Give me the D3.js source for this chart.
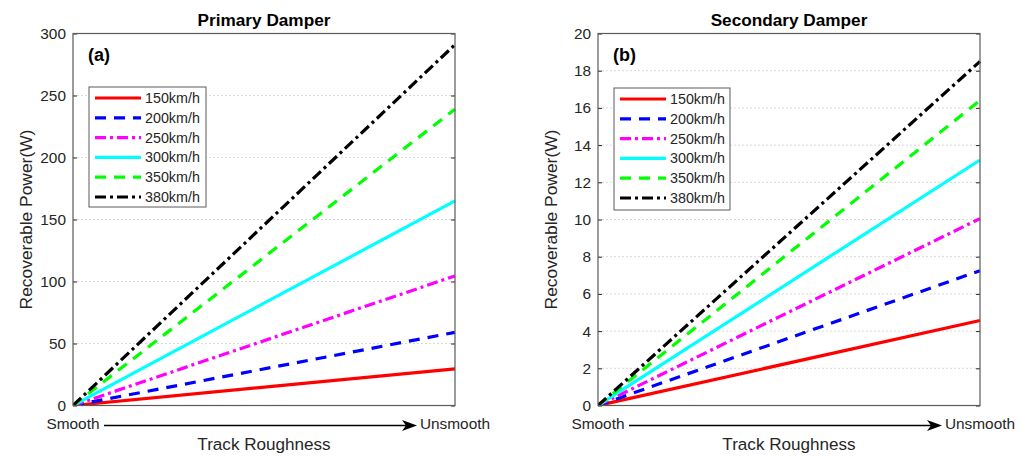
<!DOCTYPE html>
<html>
<head>
<meta charset="utf-8">
<script src="https://cdn.jsdelivr.net/npm/d3@7"></script>
<style>
  body { margin: 0; background: #fff; }
  svg { display: block; }
  svg text { font-family: "Liberation Sans", Arial, sans-serif; }
</style>
</head>
<body>
<div id="chart"></div>
<script>
// data
const speeds = ['150km/h', '200km/h', '250km/h', '300km/h', '350km/h', '380km/h'];
const primaryPower = [29.5, 59, 104.5, 165, 239, 291];     // W at "Unsmooth"
const secondaryPower = [4.57, 7.25, 10.05, 13.2, 16.4, 18.5];
const roughness = [0, 1];   // Smooth -> Unsmooth
const primaryTicks = [0, 50, 100, 150, 200, 250, 300];
const secondaryTicks = [0, 2, 4, 6, 8, 10, 12, 14, 16, 18, 20];

// line styles per speed
const colors = ['#ff0000', '#0000ff', '#ff00ff', '#00ffff', '#00ff00', '#000000'];
const dashes = [null, '11,8', '11,4,3,4', null, '11,8', '11,4,3,4'];

const W = 1029, H = 456;
const svg = d3.select('#chart').append('svg').attr('width', W).attr('height', H);

drawPanel({
  left: 73, right: 455, top: 33.5, bottom: 405.5,
  title: 'Primary Damper', tag: '(a)',
  values: primaryPower, ticks: primaryTicks,
  legend: {x: 89, y: 87, w: 117, h: 120}
});
drawPanel({
  left: 598, right: 980, top: 33.5, bottom: 405.5,
  title: 'Secondary Damper', tag: '(b)',
  values: secondaryPower, ticks: secondaryTicks,
  legend: {x: 614, y: 88, w: 116, h: 122}
});

function drawPanel(p) {
  const x = d3.scaleLinear().domain(d3.extent(roughness)).range([p.left, p.right]);
  const y = d3.scaleLinear().domain(d3.extent(p.ticks)).range([p.bottom, p.top]);
  const g = svg.append('g');
  const axisColor = '#262626';

  // grid
  g.append('g').selectAll('line')
    .data(p.ticks.slice(1, -1))
    .enter().append('line')
      .attr('x1', p.left).attr('x2', p.right)
      .attr('y1', d => y(d)).attr('y2', d => y(d))
      .attr('stroke', '#d9d9d9').attr('stroke-width', 1)
      .attr('stroke-dasharray', '2,2');

  // left axis + inner ticks
  const yAxis = d3.axisLeft(y).tickValues(p.ticks).tickSize(-4).tickPadding(7);
  const ax = g.append('g').attr('transform', `translate(${p.left},0)`).call(yAxis);
  ax.select('.domain').remove();
  ax.selectAll('line').attr('stroke', axisColor);
  ax.selectAll('text').attr('fill', axisColor).style('font-size', '15.4px');
  // right inner ticks
  const axR = g.append('g').attr('transform', `translate(${p.right},0)`)
    .call(d3.axisRight(y).tickValues(p.ticks).tickSize(-4).tickFormat(''));
  axR.select('.domain').remove();
  axR.selectAll('line').attr('stroke', axisColor);

  // series lines
  const line = d3.line().x(d => x(d[0])).y(d => y(d[1]));
  g.append('defs').append('clipPath').attr('id', 'clip' + p.left)
    .append('rect').attr('x', p.left).attr('y', p.top - 2)
    .attr('width', p.right - p.left + 1.5).attr('height', p.bottom - p.top + 2);
  g.append('g').attr('clip-path', `url(#clip${p.left})`)
    .selectAll('path')
    .data(p.values)
    .enter().append('path')
      .attr('d', v => line(roughness.map(r => [r, r * v])))
      .attr('fill', 'none')
      .attr('stroke', (v, i) => colors[i])
      .attr('stroke-width', 3.2)
      .attr('stroke-dasharray', (v, i) => dashes[i]);

  // frame
  g.append('rect')
    .attr('x', p.left).attr('y', p.top)
    .attr('width', p.right - p.left).attr('height', p.bottom - p.top)
    .attr('fill', 'none').attr('stroke', '#5a5a5a').attr('stroke-width', 1.2);

  // title & tag
  const cx = (p.left + p.right) / 2;
  g.append('text').attr('x', cx).attr('y', 26).attr('text-anchor', 'middle')
    .style('font-size', '17.2px').style('font-weight', 'bold').attr('fill', '#000')
    .text(p.title);
  g.append('text').attr('x', p.left + 15).attr('y', 61)
    .style('font-size', '18px').style('font-weight', 'bold').attr('fill', '#000')
    .text(p.tag);

  // y label
  g.append('text')
    .attr('transform', `translate(${p.left - 41},${(p.top + p.bottom) / 2}) rotate(-90)`)
    .attr('text-anchor', 'middle').attr('fill', axisColor)
    .style('font-size', '17.4px')
    .text('Recoverable Power(W)');

  // x axis annotation: Smooth ---> Unsmooth
  g.append('text').attr('x', p.left).attr('y', 429).attr('text-anchor', 'middle')
    .style('font-size', '15.4px').attr('fill', axisColor).text('Smooth');
  g.append('text').attr('x', p.right).attr('y', 429).attr('text-anchor', 'middle')
    .style('font-size', '15.4px').attr('fill', axisColor).text('Unsmooth');
  const ay = 425.5;
  g.append('line').attr('x1', p.left + 31).attr('x2', p.right - 45)
    .attr('y1', ay).attr('y2', ay).attr('stroke', '#000').attr('stroke-width', 1.5);
  g.append('path')
    .attr('d', `M${p.right - 53},${ay - 5.5} L${p.right - 38},${ay} L${p.right - 53},${ay + 5.5} L${p.right - 49},${ay} Z`)
    .attr('fill', '#000');
  g.append('text').attr('x', cx).attr('y', 450).attr('text-anchor', 'middle')
    .style('font-size', '17.1px').attr('fill', axisColor).text('Track Roughness');

  // legend
  const L = p.legend;
  const lg = g.append('g').attr('transform', `translate(${L.x},${L.y})`);
  lg.append('rect').attr('width', L.w).attr('height', L.h)
    .attr('fill', '#fff').attr('stroke', '#5a5a5a').attr('stroke-width', 1);
  const rows = lg.selectAll('g.row').data(speeds).enter().append('g')
    .attr('class', 'row')
    .attr('transform', (d, i) => `translate(0,${11 + i * 19.8})`);
  rows.append('line').attr('x1', 6).attr('x2', 52).attr('y1', 0).attr('y2', 0)
    .attr('stroke', (d, i) => colors[i]).attr('stroke-width', 3.2)
    .attr('stroke-dasharray', (d, i) => dashes[i]);
  rows.append('text').attr('x', 56).attr('y', 5)
    .style('font-size', '14.3px').attr('fill', axisColor).text(d => d);
}
</script>
</body>
</html>
